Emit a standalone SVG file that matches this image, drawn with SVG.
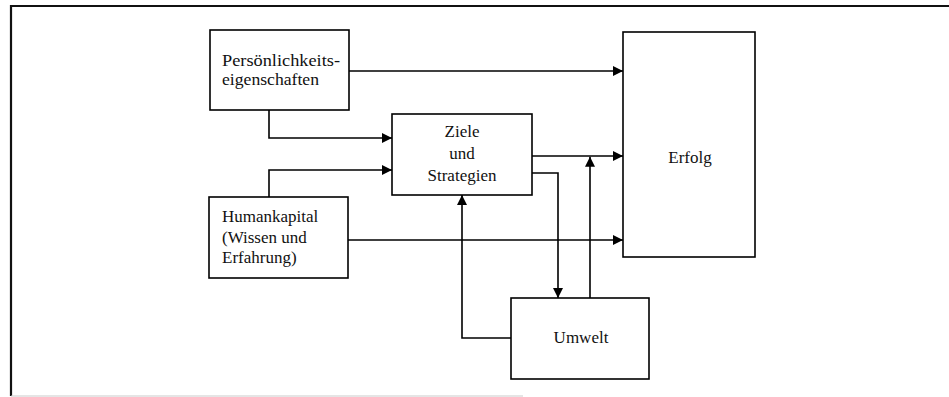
<svg xmlns="http://www.w3.org/2000/svg" width="949" height="397" viewBox="0 0 949 397">
<defs>
<marker id="arr" markerUnits="userSpaceOnUse" markerWidth="11" markerHeight="10" refX="10" refY="5" orient="auto">
<path d="M0,0 L10,5 L0,10 Z" fill="#000"/>
</marker>
<style>
.box{fill:#fff;stroke:#000;stroke-width:1.6}
.t{font-family:"Liberation Serif","Times New Roman",serif;font-size:17px;fill:#111}
.c{text-anchor:middle}
.ln{fill:none;stroke:#000;stroke-width:1.6;marker-end:url(#arr)}
</style>
</defs>
<rect width="949" height="397" fill="#fff"/>
<g id="frame">
<path d="M11,396 L11,6 L949,6" fill="none" stroke="#111" stroke-width="2.2"/>
<path d="M11,396 L523,396" fill="none" stroke="#ccc" stroke-width="1.2"/>
</g>
<g id="connectors">
<path class="ln" d="M349,71 L623,71"/>
<path class="ln" d="M269,110 L269,138 L392,138"/>
<path class="ln" d="M269,197 L269,170 L392,170"/>
<path class="ln" d="M348,240 L623,240"/>
<path class="ln" d="M532,156 L623,156"/>
<path class="ln" d="M532,173 L558,173 L558,298"/>
<path class="ln" d="M590,298 L590,156.8"/>
<path class="ln" d="M511,338 L462,338 L462,195"/>
</g>
<g id="persoenlichkeit">
<rect class="box" x="210" y="30" width="139" height="80"/>
<text class="t" x="222" y="66" textLength="118" lengthAdjust="spacingAndGlyphs">Persönlichkeits-</text>
<text class="t" x="222" y="85" textLength="97" lengthAdjust="spacingAndGlyphs">eigenschaften</text>
</g>
<g id="humankapital">
<rect class="box" x="209" y="197" width="139" height="81"/>
<text class="t" x="222" y="222">Humankapital</text>
<text class="t" x="222" y="243">(Wissen und</text>
<text class="t" x="222" y="263">Erfahrung)</text>
</g>
<g id="ziele">
<rect class="box" x="392" y="114" width="140" height="81"/>
<text class="t c" x="462" y="137">Ziele</text>
<text class="t c" x="462" y="159">und</text>
<text class="t c" x="462" y="181">Strategien</text>
</g>
<g id="erfolg">
<rect class="box" x="623" y="32" width="132" height="225"/>
<text class="t c" x="690" y="163">Erfolg</text>
</g>
<g id="umwelt">
<rect class="box" x="511" y="298" width="138" height="81"/>
<text class="t c" x="581" y="343">Umwelt</text>
</g>
</svg>
